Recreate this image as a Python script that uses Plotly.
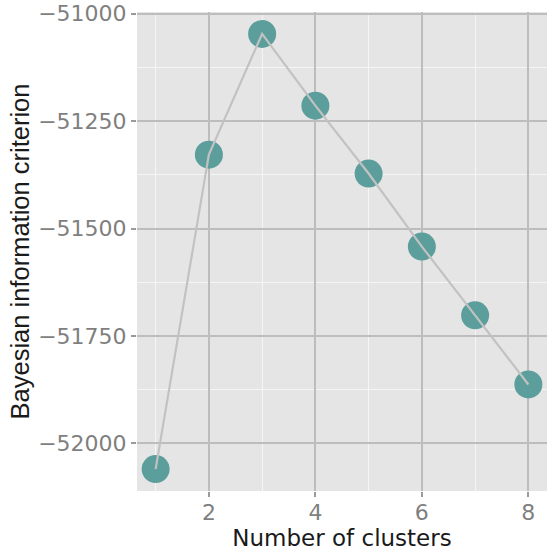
import plotly.graph_objects as go

clusters = [1, 2, 3, 4, 5, 6, 7, 8]
bic = [-52060, -51328, -51047, -51214, -51372, -51542, -51702, -51863]
y_ticks = [-52000, -51750, -51500, -51250, -51000]
x_ticks = [2, 4, 6, 8]
y_tick_labels = [str(v).replace("-", "\u2212") for v in y_ticks]

fig = go.Figure()
fig.add_trace(go.Scatter(x=clusters, y=bic, mode="markers",
                         marker=dict(size=28, color="#5b9e9b"), hoverinfo="skip"))
fig.add_trace(go.Scatter(x=clusters, y=bic, mode="lines",
                         line=dict(color="#c2c2c2", width=2.2), hoverinfo="skip"))

font = "DejaVu Sans, sans-serif"
fs = 23
fig.update_layout(
    width=554, height=552,
    margin=dict(l=137, r=7, t=12, b=61),
    paper_bgcolor="white", plot_bgcolor="#e5e5e5",
    showlegend=False,
    font=dict(family=font, size=fs, color="#7f7f7f"),
)
fig.update_xaxes(
    range=[0.65, 8.35], tickvals=x_ticks, ticks="outside", ticklen=5,
    tickwidth=1.5, tickcolor="#9a9a9a", showgrid=True, gridcolor="#bdbdbd",
    gridwidth=1.8, zeroline=False, showline=False, automargin=False,
    tickfont=dict(size=22, color="#7f7f7f"), ticklabelstandoff=-3,
    minor=dict(tick0=1, dtick=2, showgrid=True, gridcolor="#f5f5f5", gridwidth=1.1),
    title=dict(text="Number of clusters", font=dict(size=fs, color="#1a1a1a"), standoff=0),
)
fig.update_yaxes(
    range=[-52111, -50996], tickvals=y_ticks, ticktext=y_tick_labels,
    ticks="outside", ticklen=5,
    tickwidth=1.5, tickcolor="#9a9a9a", showgrid=True, gridcolor="#bdbdbd",
    gridwidth=1.8, zeroline=False, showline=False, automargin=False,
    tickfont=dict(size=22, color="#7f7f7f"),
    minor=dict(tick0=-52125, dtick=250, showgrid=True, gridcolor="#f5f5f5", gridwidth=1.1),
    title=dict(text="Bayesian information criterion",
               font=dict(family="Liberation Sans, Arial, sans-serif", size=25.5, color="#1a1a1a"),
               standoff=1),
)
fig.write_html("out.html")
